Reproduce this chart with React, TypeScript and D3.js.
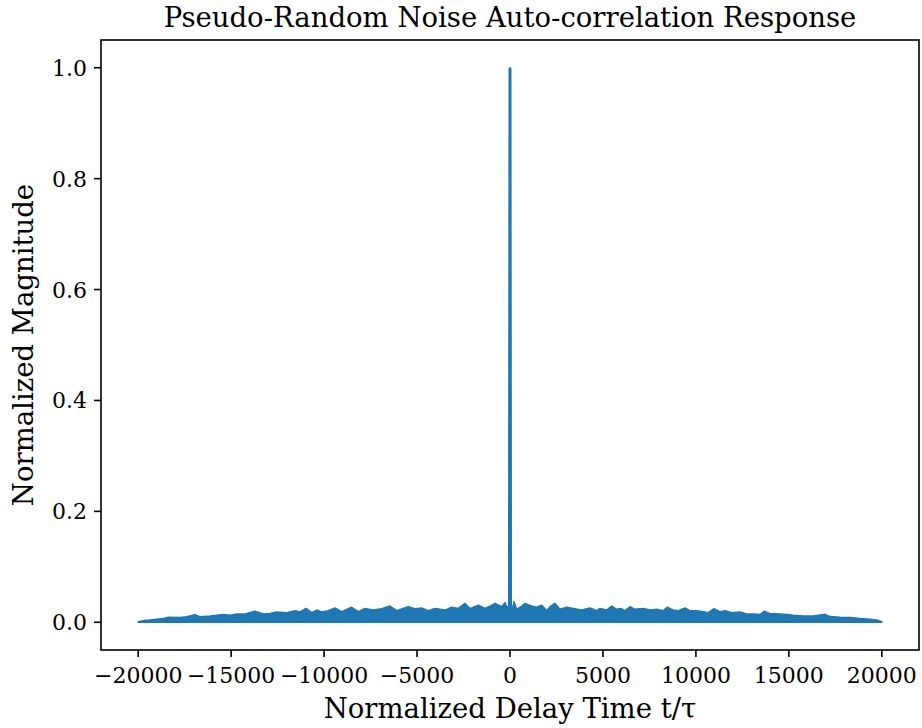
import React from "react";
import * as d3 from "d3";

// Normalized delay (t/τ) sample positions and the read-off upper envelope of |R|
const LAGS: number[] = [
  -20000, -19720, -19364, -18649, -18380, -17751, -17391, -16944, -16675, -16137,
  -15422, -15061, -14701, -14254, -13716, -13270, -12910, -12549, -12011, -11565,
  -11296, -10973, -10667, -10398, -10129, -9774, -9413, -9053, -8515, -8160,
  -7800, -7353, -6901, -6455, -6095, -5470, -5110, -4750, -4395, -4034,
  -3496, -3136, -2781, -2421, -2152, -1705, -1345, -1076, -807, -446,
  -269, -145, -70, -40, 0, 40, 70, 145, 215, 360,
  629, 807, 1167, 1436, 1705, 1974, 2152, 2421, 2690, 3050,
  3405, 3857, 4303, 4664, 4841, 5202, 5470, 5739, 5955, 6186,
  6455, 6724, 7170, 7531, 7891, 8246, 8461, 8784, 9053, 9413,
  9682, 10043, 10398, 10667, 10973, 11296, 11565, 11925, 12372, 12732,
  13087, 13448, 13663, 13985, 14523, 14884, 15239, 15777, 16315, 16944,
  17213, 17751, 18289, 18827, 19364, 19725, 20000,
];
const MAGS: number[] = [
  0.001, 0.003, 0.004, 0.0066, 0.0089, 0.0084, 0.010, 0.0138, 0.010, 0.0113,
  0.0138, 0.0125, 0.0149, 0.0149, 0.0198, 0.0149, 0.016, 0.0185, 0.0174, 0.021,
  0.0185, 0.025, 0.0174, 0.022, 0.0185, 0.021, 0.0257, 0.0192, 0.027, 0.0192,
  0.025, 0.022, 0.0246, 0.0293, 0.021, 0.0282, 0.0246, 0.0257, 0.021, 0.025,
  0.022, 0.027, 0.025, 0.034, 0.0246, 0.031, 0.025, 0.029, 0.034, 0.028,
  0.0354, 0.025, 0.03, 0.998, 1.0, 0.998, 0.03, 0.025, 0.037, 0.0234,
  0.0293, 0.034, 0.0293, 0.027, 0.0306, 0.021, 0.028, 0.034, 0.0234, 0.027,
  0.025, 0.022, 0.0257, 0.021, 0.025, 0.022, 0.0293, 0.0234, 0.025, 0.021,
  0.028, 0.0234, 0.025, 0.022, 0.0234, 0.021, 0.027, 0.022, 0.021, 0.0257,
  0.021, 0.021, 0.0192, 0.0174, 0.0246, 0.0192, 0.021, 0.0174, 0.0185, 0.0149,
  0.0149, 0.0138, 0.0198, 0.016, 0.0149, 0.0138, 0.0125, 0.0113, 0.0113, 0.0143,
  0.0102, 0.0089, 0.0084, 0.0066, 0.0053, 0.004, 0.001,
];

const X_TICKS: number[] = [-20000, -15000, -10000, -5000, 0, 5000, 10000, 15000, 20000];
const Y_TICKS: number[] = [0.0, 0.2, 0.4, 0.6, 0.8, 1.0];

const TITLE = "Pseudo-Random Noise Auto-correlation Response";
const X_LABEL = "Normalized Delay Time t/τ";
const Y_LABEL = "Normalized Magnitude";

const W = 922;
const H = 728;
const M = { left: 101, right: 919, top: 40, bottom: 650 };
const COLOR = "#1f77b4";
const FONT = "'DejaVu Serif', serif";
const FS = 22;
const LFS = 27.5;

const fmtX = (v: number) => (v < 0 ? "\u2212" + String(Math.abs(v)) : String(v));

export default function App() {
  const x = d3.scaleLinear().domain([-22000, 22000]).range([M.left, M.right]);
  const y = d3.scaleLinear().domain([-0.05, 1.05]).range([M.bottom, M.top]);

  const data = LAGS.map((l, i) => [l, MAGS[i]] as [number, number]);
  const area = d3
    .area<[number, number]>()
    .x((d) => x(d[0]))
    .y0(y(0))
    .y1((d) => y(d[1]));
  const path = area(data) || "";

  return (
    <div style={{ position: "absolute", left: 0, top: 0 }}>
      <svg width={W} height={H} style={{ display: "block", background: "#fff" }}>
        <rect x={0} y={0} width={W} height={H} fill="#fff" />
        <path
          d={path}
          fill={COLOR}
          stroke={COLOR}
          strokeWidth={1.5}
          strokeLinejoin="round"
        />
        <rect
          x={M.left}
          y={M.top}
          width={M.right - M.left}
          height={M.bottom - M.top}
          fill="none"
          stroke="#000"
          strokeWidth={1.6}
        />
        {X_TICKS.map((t) => (
          <g key={"x" + t}>
            <line x1={x(t)} x2={x(t)} y1={M.bottom} y2={M.bottom + 7} stroke="#000" strokeWidth={1.6} />
            <text
              x={x(t)}
              y={M.bottom + 33}
              textAnchor="middle"
              fontFamily={FONT}
              fontSize={FS}
              fill="#000"
            >
              {fmtX(t)}
            </text>
          </g>
        ))}
        {Y_TICKS.map((t) => (
          <g key={"y" + t}>
            <line x1={M.left - 7} x2={M.left} y1={y(t)} y2={y(t)} stroke="#000" strokeWidth={1.6} />
            <text
              x={M.left - 14}
              y={y(t) + 8}
              textAnchor="end"
              fontFamily={FONT}
              fontSize={FS}
              fill="#000"
            >
              {t.toFixed(1)}
            </text>
          </g>
        ))}
        <text
          x={(M.left + M.right) / 2}
          y={718}
          textAnchor="middle"
          fontFamily={FONT}
          fontSize={LFS}
          fill="#000"
        >
          {X_LABEL}
        </text>
        <text
          transform={`translate(33, ${(M.top + M.bottom) / 2}) rotate(-90)`}
          textAnchor="middle"
          fontFamily={FONT}
          fontSize={LFS}
          fill="#000"
        >
          {Y_LABEL}
        </text>
        <text
          x={(M.left + M.right) / 2}
          y={27}
          textAnchor="middle"
          fontFamily={FONT}
          fontSize={LFS}
          fill="#000"
        >
          {TITLE}
        </text>
      </svg>
    </div>
  );
}
